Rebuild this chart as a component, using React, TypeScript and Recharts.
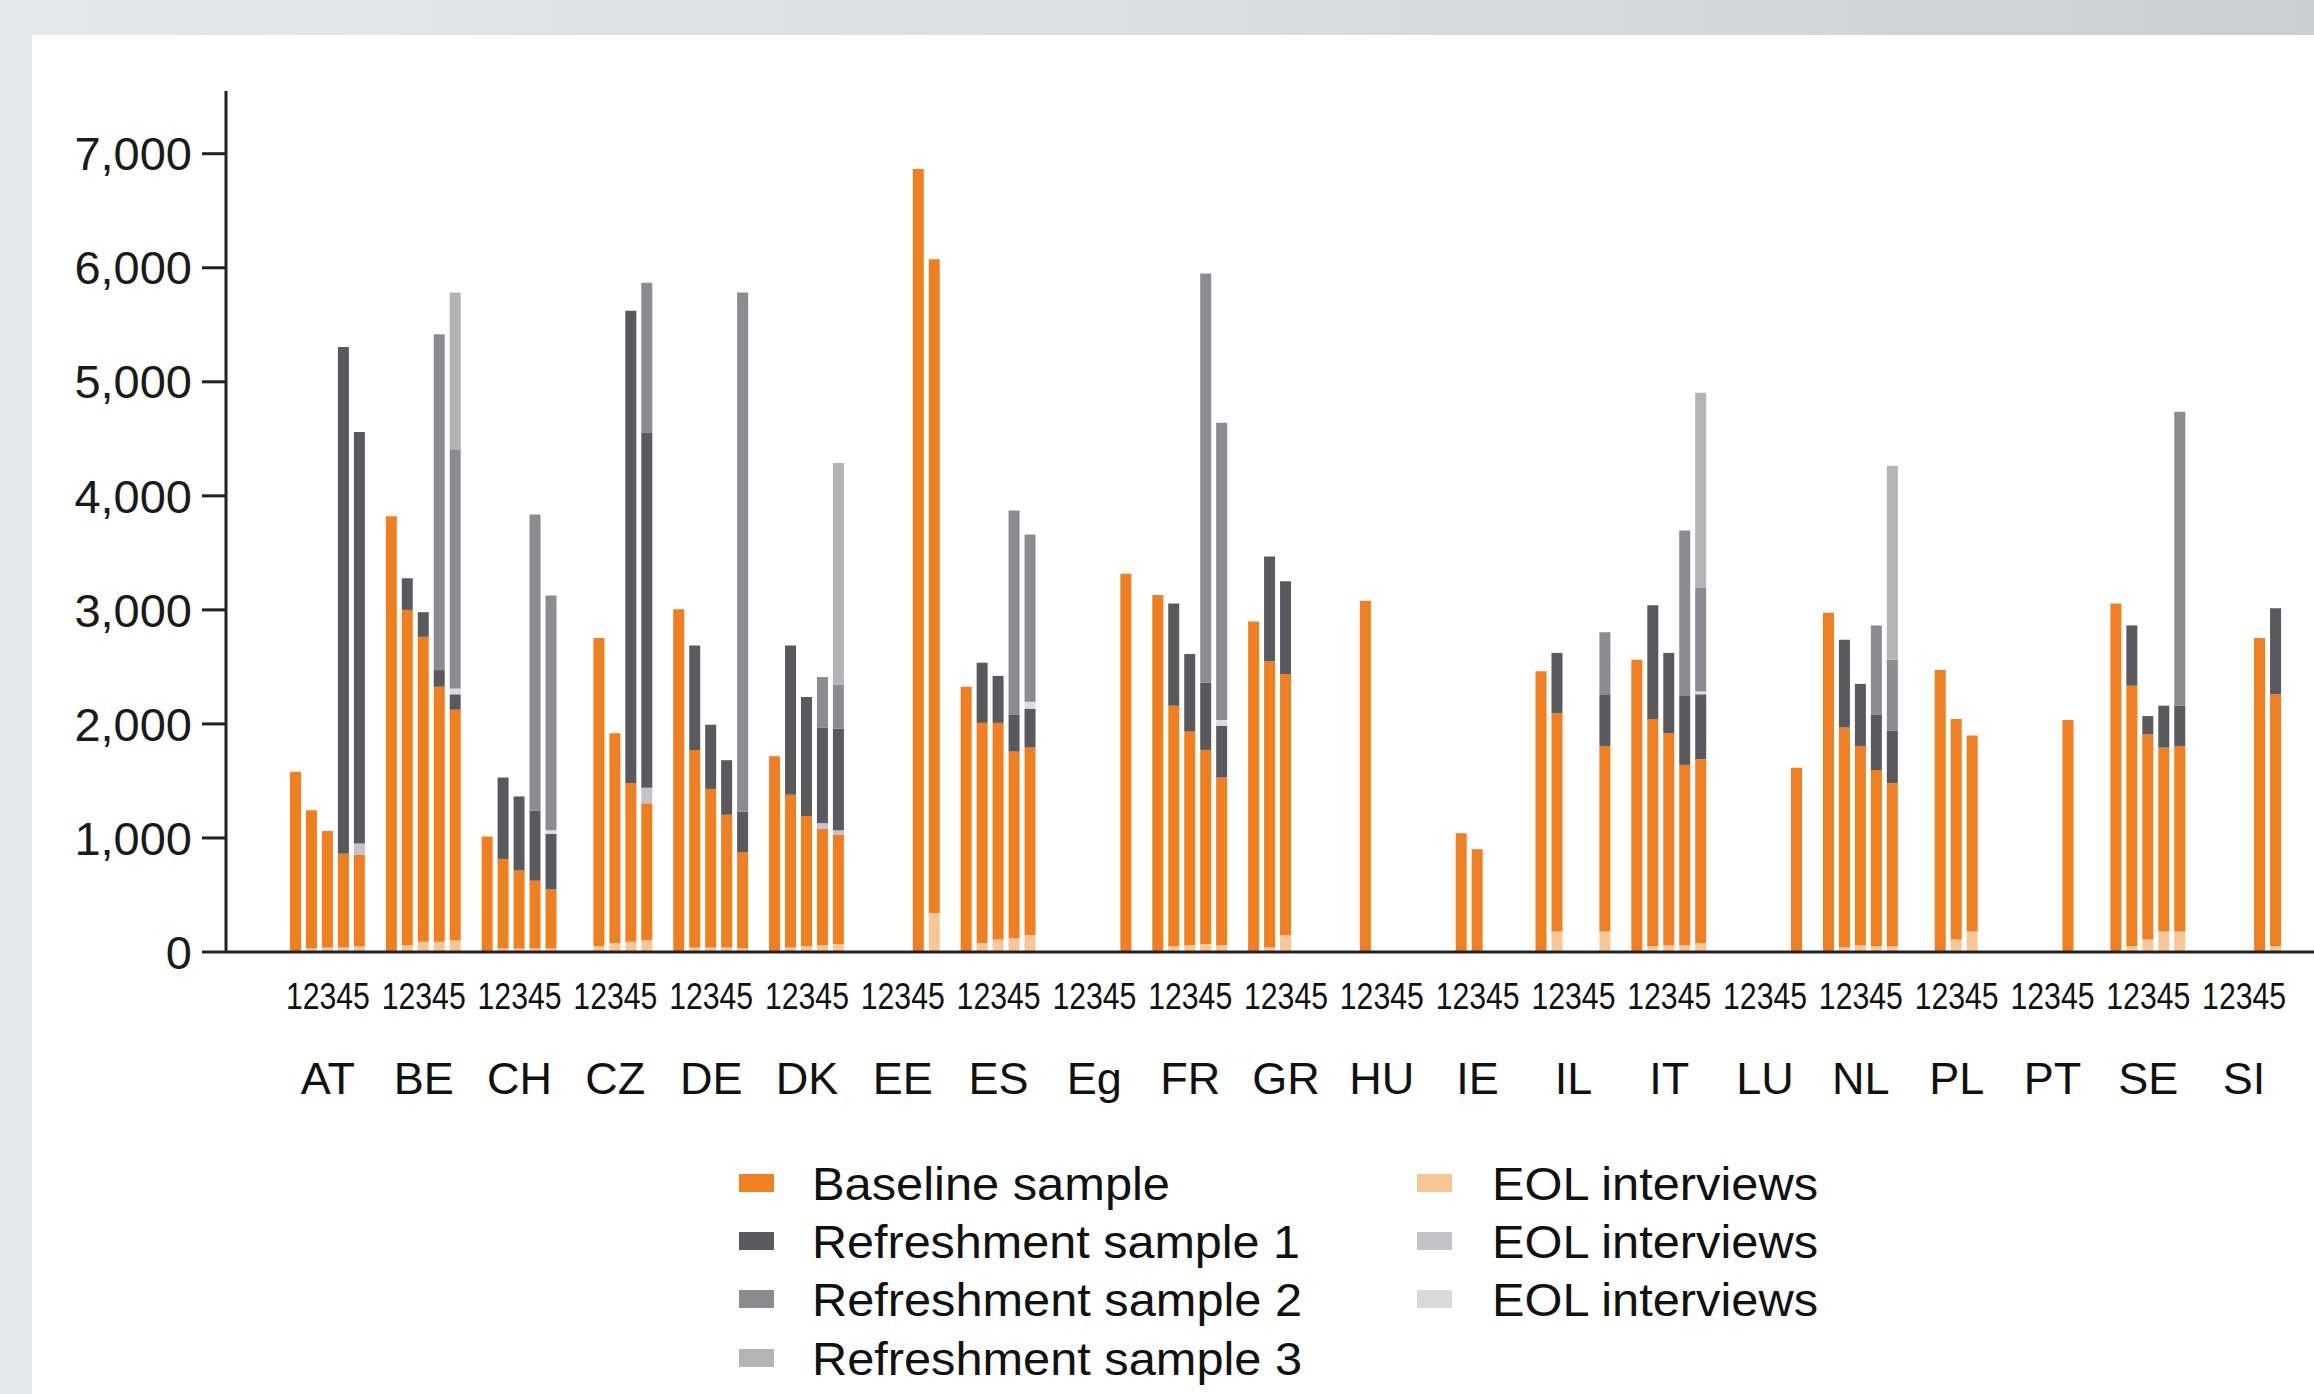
import { BarChart, Bar, XAxis, YAxis } from 'recharts'

const FONT = '"Liberation Sans", Arial, Helvetica, sans-serif'

const countries = ['AT', 'BE', 'CH', 'CZ', 'DE', 'DK', 'EE', 'ES', 'Eg', 'FR', 'GR', 'HU', 'IE', 'IL', 'IT', 'LU', 'NL', 'PL', 'PT', 'SE', 'SI']
const waves = ['1', '2', '3', '4', '5']
const yTicks = [0, 1000, 2000, 3000, 4000, 5000, 6000, 7000]

// one row of five waves per country, in the order of `countries`
const eolBaseline = [
  0, 30, 40, 40, 50, // AT
  0, 60, 90, 90, 100, // BE
  0, 30, 30, 30, 30, // CH
  0, 50, 80, 90, 100, // CZ
  0, 40, 40, 40, 30, // DE
  0, 40, 50, 60, 70, // DK
  0, 0, 0, 0, 340, // EE
  0, 80, 110, 120, 150, // ES
  0, 0, 0, 0, 0, // Eg
  0, 50, 60, 70, 60, // FR
  0, 40, 150, 0, 0, // GR
  0, 0, 0, 0, 0, // HU
  0, 0, 0, 0, 0, // IE
  0, 180, 0, 0, 180, // IL
  0, 50, 60, 60, 80, // IT
  0, 0, 0, 0, 0, // LU
  0, 40, 60, 50, 50, // NL
  0, 0, 110, 180, 0, // PL
  0, 0, 0, 0, 0, // PT
  0, 50, 110, 180, 180, // SE
  0, 0, 0, 0, 50, // SI
]

const baseline = [
  1581, 1214, 1022, 821, 801, // AT
  3821, 2940, 2674, 2236, 2024, // BE
  1012, 786, 685, 595, 519, // CH
  0, 2704, 1838, 1390, 1204, // CZ
  3005, 1732, 1390, 1163, 846, // DE
  1717, 1340, 1143, 1018, 957, // DK
  0, 0, 0, 6866, 5735, // EE
  2326, 1929, 1899, 1637, 1642, // ES
  0, 0, 0, 0, 3317, // Eg
  3131, 2110, 1873, 1702, 1470, // FR
  2899, 2507, 2287, 0, 0, // GR
  0, 3081, 0, 0, 0, // HU
  0, 1042, 902, 0, 0, // IE
  2462, 1914, 0, 0, 1627, // IL
  2562, 1994, 1858, 1581, 1611, // IT
  0, 0, 0, 0, 1616, // LU
  2975, 1928, 1747, 1546, 1430, // NL
  0, 2472, 1934, 1718, 0, // PL
  0, 0, 0, 2034, 0, // PT
  3056, 2286, 1798, 1612, 1627, // SE
  0, 0, 0, 2754, 2210, // SI
]

const eolRefresh1 = [
  0, 0, 0, 0, 100, // AT
  0, 0, 0, 0, 0, // BE
  0, 0, 0, 0, 0, // CH
  0, 0, 0, 0, 136, // CZ
  0, 0, 0, 0, 0, // DE
  0, 0, 0, 50, 40, // DK
  0, 0, 0, 0, 0, // EE
  0, 0, 0, 0, 0, // ES
  0, 0, 0, 0, 0, // Eg
  0, 0, 0, 0, 0, // FR
  0, 0, 0, 0, 0, // GR
  0, 0, 0, 0, 0, // HU
  0, 0, 0, 0, 0, // IE
  0, 0, 0, 0, 0, // IL
  0, 0, 0, 0, 0, // IT
  0, 0, 0, 0, 0, // LU
  0, 0, 0, 0, 0, // NL
  0, 0, 0, 0, 0, // PL
  0, 0, 0, 0, 0, // PT
  0, 0, 0, 0, 0, // SE
  0, 0, 0, 0, 0, // SI
]

const refresh1 = [
  0, 0, 0, 4444, 3609, // AT
  0, 277, 216, 146, 136, // BE
  0, 714, 649, 614, 488, // CH
  0, 0, 0, 4142, 3110, // CZ
  0, 916, 563, 479, 353, // DE
  0, 1308, 1042, 840, 891, // DK
  0, 0, 0, 0, 0, // EE
  0, 528, 412, 327, 342, // ES
  0, 0, 0, 0, 0, // Eg
  0, 896, 680, 589, 454, // FR
  0, 921, 815, 0, 0, // GR
  0, 0, 0, 0, 0, // HU
  0, 0, 0, 0, 0, // IE
  0, 529, 0, 0, 453, // IL
  0, 996, 705, 604, 569, // IT
  0, 0, 0, 0, 0, // LU
  0, 770, 544, 488, 463, // NL
  0, 0, 0, 0, 0, // PL
  0, 0, 0, 0, 0, // PT
  0, 528, 161, 368, 353, // SE
  0, 0, 0, 0, 755, // SI
]

const eolRefresh2 = [
  0, 0, 0, 0, 0, // AT
  0, 0, 0, 0, 51, // BE
  0, 0, 0, 0, 30, // CH
  0, 0, 0, 0, 0, // CZ
  0, 0, 0, 0, 0, // DE
  0, 0, 0, 0, 0, // DK
  0, 0, 0, 0, 0, // EE
  0, 0, 0, 0, 61, // ES
  0, 0, 0, 0, 0, // Eg
  0, 0, 0, 0, 50, // FR
  0, 0, 0, 0, 0, // GR
  0, 0, 0, 0, 0, // HU
  0, 0, 0, 0, 0, // IE
  0, 0, 0, 0, 0, // IL
  0, 0, 0, 0, 25, // IT
  0, 0, 0, 0, 0, // LU
  0, 0, 0, 0, 0, // NL
  0, 0, 0, 0, 0, // PL
  0, 0, 0, 0, 0, // PT
  0, 0, 0, 0, 0, // SE
  0, 0, 0, 0, 0, // SI
]

const refresh2 = [
  0, 0, 0, 0, 0, // AT
  0, 0, 0, 2944, 2098, // BE
  0, 0, 0, 2597, 2059, // CH
  0, 0, 0, 0, 1319, // CZ
  0, 0, 0, 0, 4554, // DE
  0, 0, 0, 443, 388, // DK
  0, 0, 0, 0, 0, // EE
  0, 0, 0, 1787, 1465, // ES
  0, 0, 0, 0, 0, // Eg
  0, 0, 0, 3588, 2607, // FR
  0, 0, 0, 0, 0, // GR
  0, 0, 0, 0, 0, // HU
  0, 0, 0, 0, 0, // IE
  0, 0, 0, 0, 544, // IL
  0, 0, 0, 1450, 907, // IT
  0, 0, 0, 0, 0, // LU
  0, 0, 0, 780, 619, // NL
  0, 0, 0, 0, 0, // PL
  0, 0, 0, 0, 0, // PT
  0, 0, 0, 0, 2577, // SE
  0, 0, 0, 0, 0, // SI
]

const refresh3 = [
  0, 0, 0, 0, 0, // AT
  0, 0, 0, 0, 1374, // BE
  0, 0, 0, 0, 0, // CH
  0, 0, 0, 0, 0, // CZ
  0, 0, 0, 0, 0, // DE
  0, 0, 0, 0, 1943, // DK
  0, 0, 0, 0, 0, // EE
  0, 0, 0, 0, 0, // ES
  0, 0, 0, 0, 0, // Eg
  0, 0, 0, 0, 0, // FR
  0, 0, 0, 0, 0, // GR
  0, 0, 0, 0, 0, // HU
  0, 0, 0, 0, 0, // IE
  0, 0, 0, 0, 0, // IL
  0, 0, 0, 0, 1711, // IT
  0, 0, 0, 0, 0, // LU
  0, 0, 0, 0, 1701, // NL
  0, 0, 0, 0, 0, // PL
  0, 0, 0, 0, 0, // PT
  0, 0, 0, 0, 0, // SE
  0, 0, 0, 0, 0, // SI
]

// stack order, bottom to top
const SERIES = [
  { key: 'eolBaseline', values: eolBaseline, color: '#f9c796' },
  { key: 'baseline', values: baseline, color: '#f07f22' },
  { key: 'eolRefresh1', values: eolRefresh1, color: '#c3c3c8' },
  { key: 'refresh1', values: refresh1, color: '#5a5a5e' },
  { key: 'eolRefresh2', values: eolRefresh2, color: '#dcdcdc' },
  { key: 'refresh2', values: refresh2, color: '#8b8b90' },
  { key: 'refresh3', values: refresh3, color: '#b4b4b7' },
]

const LEGEND = [
  { label: 'Baseline sample', color: '#f07f22', col: 0, row: 0, w: 358 },
  { label: 'Refreshment sample 1', color: '#5a5a5e', col: 0, row: 1, w: 488 },
  { label: 'Refreshment sample 2', color: '#8b8b90', col: 0, row: 2, w: 490 },
  { label: 'Refreshment sample 3', color: '#b4b4b7', col: 0, row: 3, w: 490 },
  { label: 'EOL interviews', color: '#f9c796', col: 1, row: 0, w: 326 },
  { label: 'EOL interviews', color: '#c3c3c8', col: 1, row: 1, w: 326 },
  { label: 'EOL interviews', color: '#d9d9d9', col: 1, row: 2, w: 326 },
]

// each country gets its five waves plus one empty slot as the gap
function buildRows() {
  const rows: Record<string, any>[] = []
  countries.forEach((c, ci) => {
    waves.forEach((w, wi) => {
      const row: Record<string, any> = { key: `${c}|${w}` }
      SERIES.forEach((s) => {
        row[s.key] = s.values[ci * 5 + wi]
      })
      rows.push(row)
    })
    rows.push({ key: `${c}|gap` })
  })
  return rows
}

const renderXTick = (props: any) => {
  const { x, y, payload } = props
  const [country, wave] = String(payload.value).split('|')
  if (wave !== '3') return <g />
  return (
    <g>
      <text
        x={x}
        y={y + 57}
        textAnchor="middle"
        fontSize={37}
        textLength={84}
        lengthAdjust="spacingAndGlyphs"
        fill="#111"
      >
        {waves.join('')}
      </text>
      <text x={x} y={y + 142} textAnchor="middle" fontSize={45} fill="#111">
        {country}
      </text>
    </g>
  )
}

function LegendBlock() {
  const colX = [739, 1417]
  const textX = [812, 1492]
  const rowY = [1183, 1241, 1299, 1358]
  return (
    <svg
      width={2314}
      height={1394}
      style={{ position: 'absolute', left: 0, top: 0, pointerEvents: 'none' }}
    >
      {LEGEND.map((d, i) => (
        <g key={i}>
          <rect x={colX[d.col]} y={rowY[d.row] - 9} width={35} height={18} fill={d.color} />
          <text
            x={textX[d.col]}
            y={rowY[d.row] + 17}
            fontSize={47}
            textLength={d.w}
            lengthAdjust="spacingAndGlyphs"
            fill="#111"
          >
            {d.label}
          </text>
        </g>
      ))}
    </svg>
  )
}

export default function App() {
  const data = buildRows()

  return (
    <div
      style={{
        position: 'absolute',
        left: 0,
        top: 0,
        width: 2314,
        height: 1394,
        overflow: 'hidden',
        fontFamily: FONT,
        background: 'linear-gradient(90deg, #e2e8eb 0%, #d8dde0 55%, #cbcfd2 100%)',
      }}
    >
      <div style={{ position: 'absolute', left: 32, top: 35, right: 0, bottom: 0, background: '#ffffff' }} />
      <div style={{ position: 'absolute', left: 0, top: 0 }}>
        <BarChart
          width={2314}
          height={1120}
          data={data}
          margin={{ top: 91, right: 0, bottom: 0, left: 0 }}
          barSize={11}
        >
          <XAxis
            dataKey="key"
            interval={0}
            height={168}
            padding={{ left: 62, right: 14 }}
            axisLine={{ stroke: '#222', strokeWidth: 3 }}
            tickLine={false}
            tickSize={0}
            tickMargin={0}
            tick={renderXTick}
          />
          <YAxis
            width={226}
            domain={[0, 7550]}
            ticks={yTicks}
            allowDataOverflow
            tickSize={24}
            tickMargin={10}
            axisLine={{ stroke: '#222', strokeWidth: 3 }}
            tickLine={{ stroke: '#222', strokeWidth: 3 }}
            tick={{ fontSize: 47, fill: '#1a1a1a' }}
            tickFormatter={(v: number) => v.toLocaleString('en-US')}
          />
          {SERIES.map((s) => (
            <Bar key={s.key} dataKey={s.key} stackId="s" fill={s.color} isAnimationActive={false} />
          ))}
        </BarChart>
      </div>
      <LegendBlock />
    </div>
  )
}
